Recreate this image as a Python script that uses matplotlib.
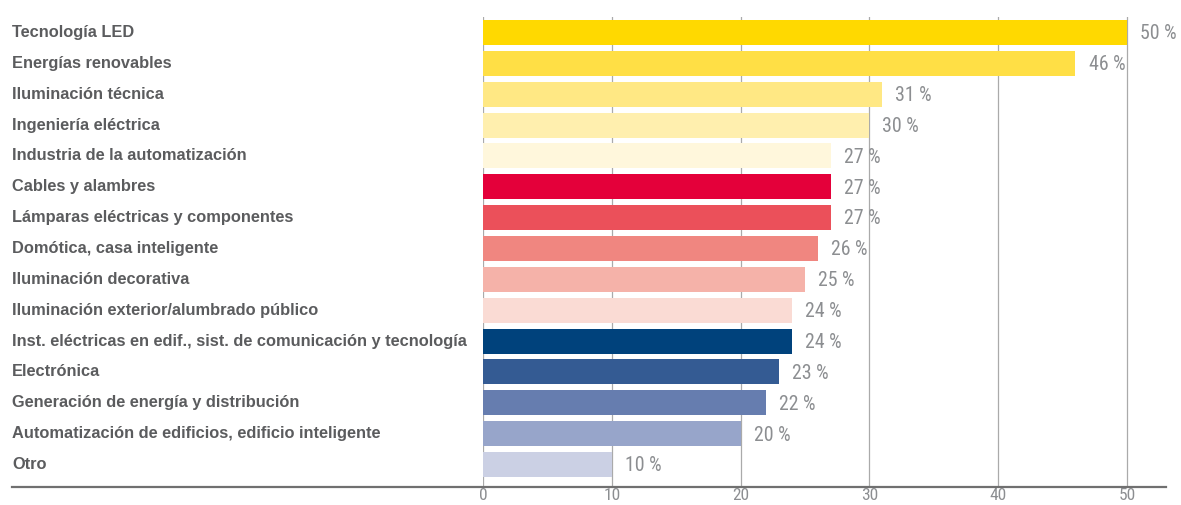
import matplotlib
matplotlib.use("Agg")
import matplotlib.pyplot as plt
from matplotlib.lines import Line2D
from matplotlib import font_manager

categories = [
    "Tecnología LED",
    "Energías renovables",
    "Iluminación técnica",
    "Ingeniería eléctrica",
    "Industria de la automatización",
    "Cables y alambres",
    "Lámparas eléctricas y componentes",
    "Domótica, casa inteligente",
    "Iluminación decorativa",
    "Iluminación exterior/alumbrado público",
    "Inst. eléctricas en edif., sist. de comunicación y tecnología",
    "Electrónica",
    "Generación de energía y distribución",
    "Automatización de edificios, edificio inteligente",
    "Otro",
]
values = [50, 46, 31, 30, 27, 27, 27, 26, 25, 24, 24, 23, 22, 20, 10]
colors = [
    "#FFD900", "#FFDF45", "#FFE884", "#FFEFAE", "#FFF7DC",
    "#E4003A", "#EB505A", "#F08680", "#F5B2A9", "#FADBD4",
    "#00427C", "#345B93", "#667DAF", "#97A5CA", "#CBD0E4",
]
xticks = [0, 10, 20, 30, 40, 50]

names = sorted({f.name for f in font_manager.fontManager.ttflist})
narrow = None
for cand in ["Liberation Sans Narrow", "Roboto Condensed", "DejaVu Sans Condensed", "Open Sans Condensed"]:
    if cand in names:
        narrow = cand
        break
num_font = dict(family=[narrow or "Roboto", "DejaVu Sans"])
num_size = 14.3 if narrow else 12
tick_size = 12.5 if narrow else 11

W, H = 1181, 505
fig = plt.figure(figsize=(W / 100, H / 100), dpi=100)
left, right, top, bottom = 483, 1166, 17, 487
ax = fig.add_axes([left / W, 1 - bottom / H, (right - left) / W, (bottom - top) / H])

ypos = list(range(len(categories)))
ax.barh(ypos, values, height=0.81, color=colors, zorder=2)
ax.set_xlim(0, 53.03)
ax.set_ylim(14.73, -0.5)

for x in xticks:
    ax.axvline(x, color="#AAAAAA", lw=0.9, zorder=1)

for s in ax.spines.values():
    s.set_visible(False)
ax.set_yticks([])
ax.set_xticks(xticks)
ax.set_xticklabels([str(t) for t in xticks], fontsize=tick_size, color="#8C8E91", **num_font)
ax.tick_params(axis="x", length=0, pad=0.5)

for y, v in zip(ypos, values):
    ax.annotate(f"{v} %", xy=(v, y), xytext=(9.4, -1), textcoords="offset points",
                va="center", ha="left", fontsize=num_size, color="#8C8E91", **num_font)

for y, c in zip(ypos, categories):
    ax.annotate(c, xy=(0, y), xycoords=("figure fraction", "data"),
                xytext=(12 / W, 0), textcoords=("figure fraction", "offset points"),
                va="center", ha="left", fontsize=11.8, fontweight="bold", color="#5B5C5E",
                family=["Liberation Sans", "DejaVu Sans"])

fig.add_artist(Line2D([12 / W, right / W], [1 - bottom / H, 1 - bottom / H],
                      color="#707070", lw=1.6, transform=fig.transFigure))

fig.savefig("out.png", dpi=100)
